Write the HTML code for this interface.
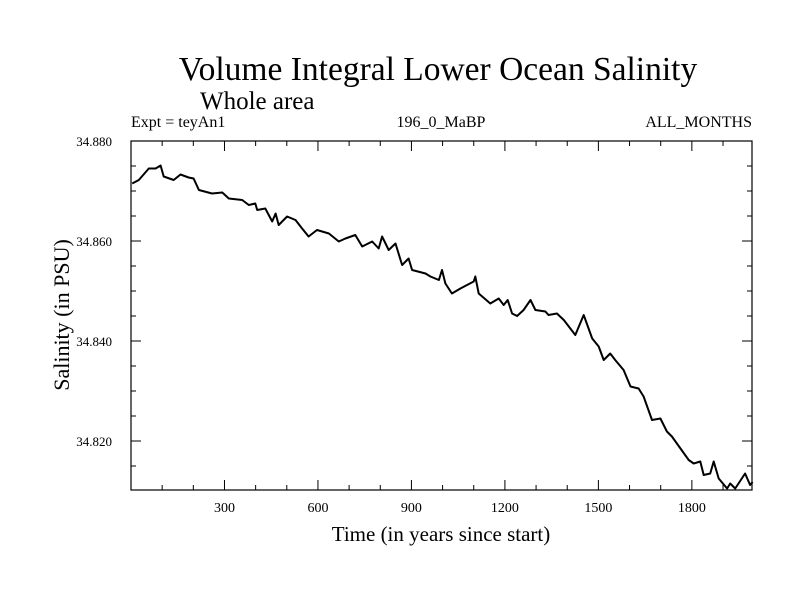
<!DOCTYPE html>
<html><head><meta charset="utf-8"><style>
html,body{margin:0;padding:0;background:#fff;}
svg{display:block;font-family:"Liberation Serif",serif;}
</style></head><body>
<svg id="chart" width="800" height="600" viewBox="0 0 800 600">
<rect width="800" height="600" fill="#fff"/>
<text x="438" y="80" font-size="33.5" text-anchor="middle">Volume Integral Lower Ocean Salinity</text>
<text x="200" y="109" font-size="25">Whole area</text>
<text x="131" y="127" font-size="16">Expt = teyAn1</text>
<text x="441" y="127" font-size="16" text-anchor="middle">196_0_MaBP</text>
<text x="752" y="127" font-size="16" text-anchor="end">ALL_MONTHS</text>
<text x="441" y="541" font-size="21" text-anchor="middle">Time (in years since start)</text>
<text transform="translate(69,315) rotate(-90)" font-size="22" text-anchor="middle">Salinity (in PSU)</text>
<g id="axes"></g>
<path id="series" fill="none" stroke="#000" stroke-width="2" stroke-linejoin="round"/>
<rect x="131" y="141" width="621" height="349" fill="none" stroke="#000" stroke-width="1.2"/>
</svg>
<script>
const years=[4,25,57,79,95,105,137,159,185,201,218,260,293,314,357,378,399,405,431,453,464,474,501,528,549,570,597,635,667,688,720,742,774,795,806,827,849,870,891,902,945,961,988,998,1009,1030,1057,1100,1105,1116,1153,1180,1196,1209,1223,1239,1260,1282,1298,1330,1340,1367,1389,1426,1453,1480,1501,1517,1538,1554,1581,1603,1629,1645,1672,1699,1720,1736,1752,1790,1806,1827,1838,1859,1870,1886,1913,1923,1939,1971,1987,1995];
const salinity=[34.8715,34.8722,34.8745,34.8745,34.8751,34.8729,34.8722,34.8733,34.8727,34.8725,34.8702,34.8695,34.8697,34.8685,34.8682,34.8672,34.8675,34.8662,34.8665,34.8639,34.8655,34.8632,34.8649,34.8642,34.8625,34.8609,34.8622,34.8615,34.8599,34.8605,34.8612,34.8589,34.8599,34.8585,34.8609,34.8582,34.8595,34.8552,34.8565,34.8542,34.8535,34.8529,34.8522,34.8542,34.8515,34.8495,34.8505,34.8519,34.8529,34.8495,34.8475,34.8485,34.8472,34.8482,34.8455,34.8450,34.8462,34.8482,34.8462,34.8459,34.8452,34.8455,34.8442,34.8412,34.8452,34.8405,34.8389,34.8362,34.8375,34.8362,34.8342,34.8309,34.8305,34.8289,34.8242,34.8245,34.8219,34.8209,34.8195,34.8162,34.8155,34.8159,34.8132,34.8135,34.8159,34.8125,34.8105,34.8115,34.8105,34.8135,34.8112,34.8118];
const xTickLabels=[300,600,900,1200,1500,1800];
const yTickLabels=["34.820","34.840","34.860","34.880"];
const L=131,R=752,T=141,B=490,XMIN=0,XMAX=1993,YMIN=34.8102,YMAX=34.880;
function xs(v){return L+(v-XMIN)/(XMAX-XMIN)*(R-L);}
function ys(v){return T+(YMAX-v)/(YMAX-YMIN)*(B-T);}
const NS="http://www.w3.org/2000/svg";
const ax=document.getElementById('axes');
function line(x1,y1,x2,y2,name){const l=document.createElementNS(NS,'line');l.setAttribute('x1',x1);l.setAttribute('y1',y1);l.setAttribute('x2',x2);l.setAttribute('y2',y2);l.setAttribute('stroke','#000');l.setAttribute('stroke-width','1');


ax.appendChild(l);}
for(let v=100;v<XMAX;v+=100){const x=xs(v);const len=(v%300===0)?10:5;line(x,B,x,B-len,'x-tick');line(x,T,x,T+len,'x-tick-top');}
for(let k=0;k<=14;k++){const v=34.810+k*0.005;if(v<YMIN-1e-9||v>YMAX+1e-9)continue;const y=ys(v);const major=(k%4===2);const len=major?10:5;line(L,y,L+len,y,'y-tick');line(R,y,R-len,y,'y-tick-right');}
xTickLabels.forEach(v=>{const t=document.createElementNS(NS,'text');t.setAttribute('x',xs(v));t.setAttribute('y',B+22);t.setAttribute('font-size','14');t.setAttribute('text-anchor','middle');t.textContent=v;


ax.appendChild(t);});
yTickLabels.forEach(s=>{const t=document.createElementNS(NS,'text');t.setAttribute('x',L-19);t.setAttribute('y',ys(parseFloat(s))+5);t.setAttribute('font-size','13');t.setAttribute('text-anchor','end');t.textContent=s;


ax.appendChild(t);});
let d='';years.forEach((yr,i)=>{d+=(i?'L':'M')+xs(yr).toFixed(1)+','+ys(salinity[i]).toFixed(1);});
document.getElementById('series').setAttribute('d',d);
</script>
</body></html>
